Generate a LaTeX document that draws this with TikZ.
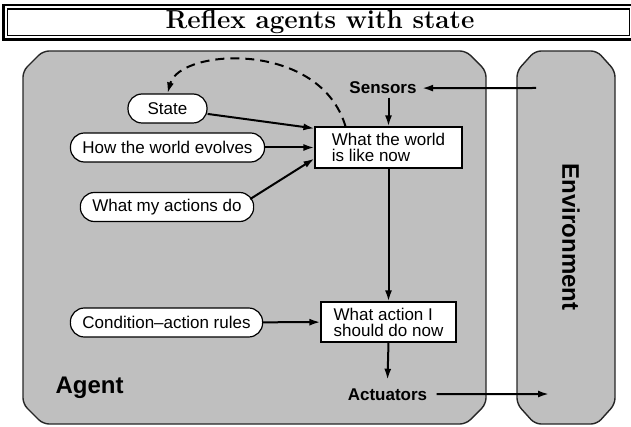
\documentclass[tikz,border=0pt]{standalone}
\usepackage{fontspec}
\setsansfont{Liberation Sans}
\usetikzlibrary{arrows.meta}

\begin{document}
\begin{tikzpicture}[x=1pt,y=-1pt,
        arr/.style={line width=2pt,-{Latex[length=11pt,width=7pt]}},
        pill/.style={draw,fill=white,line width=1.2pt,rounded corners=14pt,minimum height=29pt,inner xsep=12pt,font=\sffamily\fontsize{17}{20}\selectfont},
        infobox/.style={draw,fill=white,line width=1.2pt,align=left,font=\sffamily\fontsize{17}{16}\selectfont},
        lbl/.style={font=\sffamily\bfseries\fontsize{17}{20}\selectfont},
        panel/.style={draw=black!85,fill=black!25,line width=1.4pt,rounded corners=6pt}]
        \useasboundingbox (0,0) rectangle (631,427);
        \clip (0,0) rectangle (631,427);

        % title frame
        \draw[line width=2.2pt] (3.5,5) rectangle (636,39.5);
        \draw[line width=1.4pt] (7.5,9) rectangle (629.5,35.5);
        \node[font=\bfseries\fontsize{26}{30}\selectfont] (title) at (320,22.5) {Reflex agents with state};

        % agent and environment
        \draw[panel] (250,51) -- (466,51) -- (486,71) -- (486,404) -- (466,424) -- (43,424) -- (23,404) -- (23,71) -- (43,51) -- cycle;
        \draw[panel] (566,51) -- (597,51) -- (615,71) -- (615,404) -- (597,424) -- (535,424) -- (517,404) -- (517,71) -- (535,51) -- cycle;

        \node[lbl,font=\sffamily\bfseries\fontsize{24}{28}\selectfont,anchor=base west] (agent) at (52,393) {Agent};
        \node[lbl,font=\sffamily\bfseries\fontsize{24}{28}\selectfont,rotate=-90] (env) at (571,237) {Environment};

        \node[lbl,anchor=base] (sensors) at (383,94) {Sensors};
        \node[lbl,anchor=base] (actuators) at (387.5,400) {Actuators};

        \node[infobox,minimum width=147pt,minimum height=41pt] (world) at (388.5,147.5) {What the world\\is like now};
        \node[infobox,minimum width=135pt,minimum height=40pt] (action) at (388.5,322) {What action I\\should do now};

        \node[pill,minimum width=79pt] (state) at (167.5,108.5) {State};
        \node[pill] (evolves) at (167.5,147.5) {How the world evolves};
        \node[pill] (acts) at (167,207) {What my actions do};
        \node[pill] (rules) at (166.5,322.5) {Condition--action rules};

        \coordinate (envin) at (536,88);
        \coordinate (envout) at (549,394);

        \draw[arr,shorten >=2pt] (envin) -- (sensors);
        \draw[arr] (world.north |- sensors.south) -- (world.north);
        \draw[arr] (world) -- (action);
        \draw[arr] (action.south) -- ([yshift=5pt]actuators.north);
        \draw[arr,shorten <=6pt] (actuators) -- (envout);

        \draw[arr] (state) -- ([yshift=-2pt]world.north west);
        \draw[arr] (evolves) -- (world);
        \draw[arr] ([xshift=-4pt,yshift=8pt]acts.east) -- ([yshift=10pt]world.south west);
        \draw[arr] (rules) -- (action);

        \draw[arr,dash pattern=on 9pt off 6pt] ([xshift=-43pt]world.north) .. controls (320,40) and (180,48) .. (state.north);
\end{tikzpicture}
\end{document}
